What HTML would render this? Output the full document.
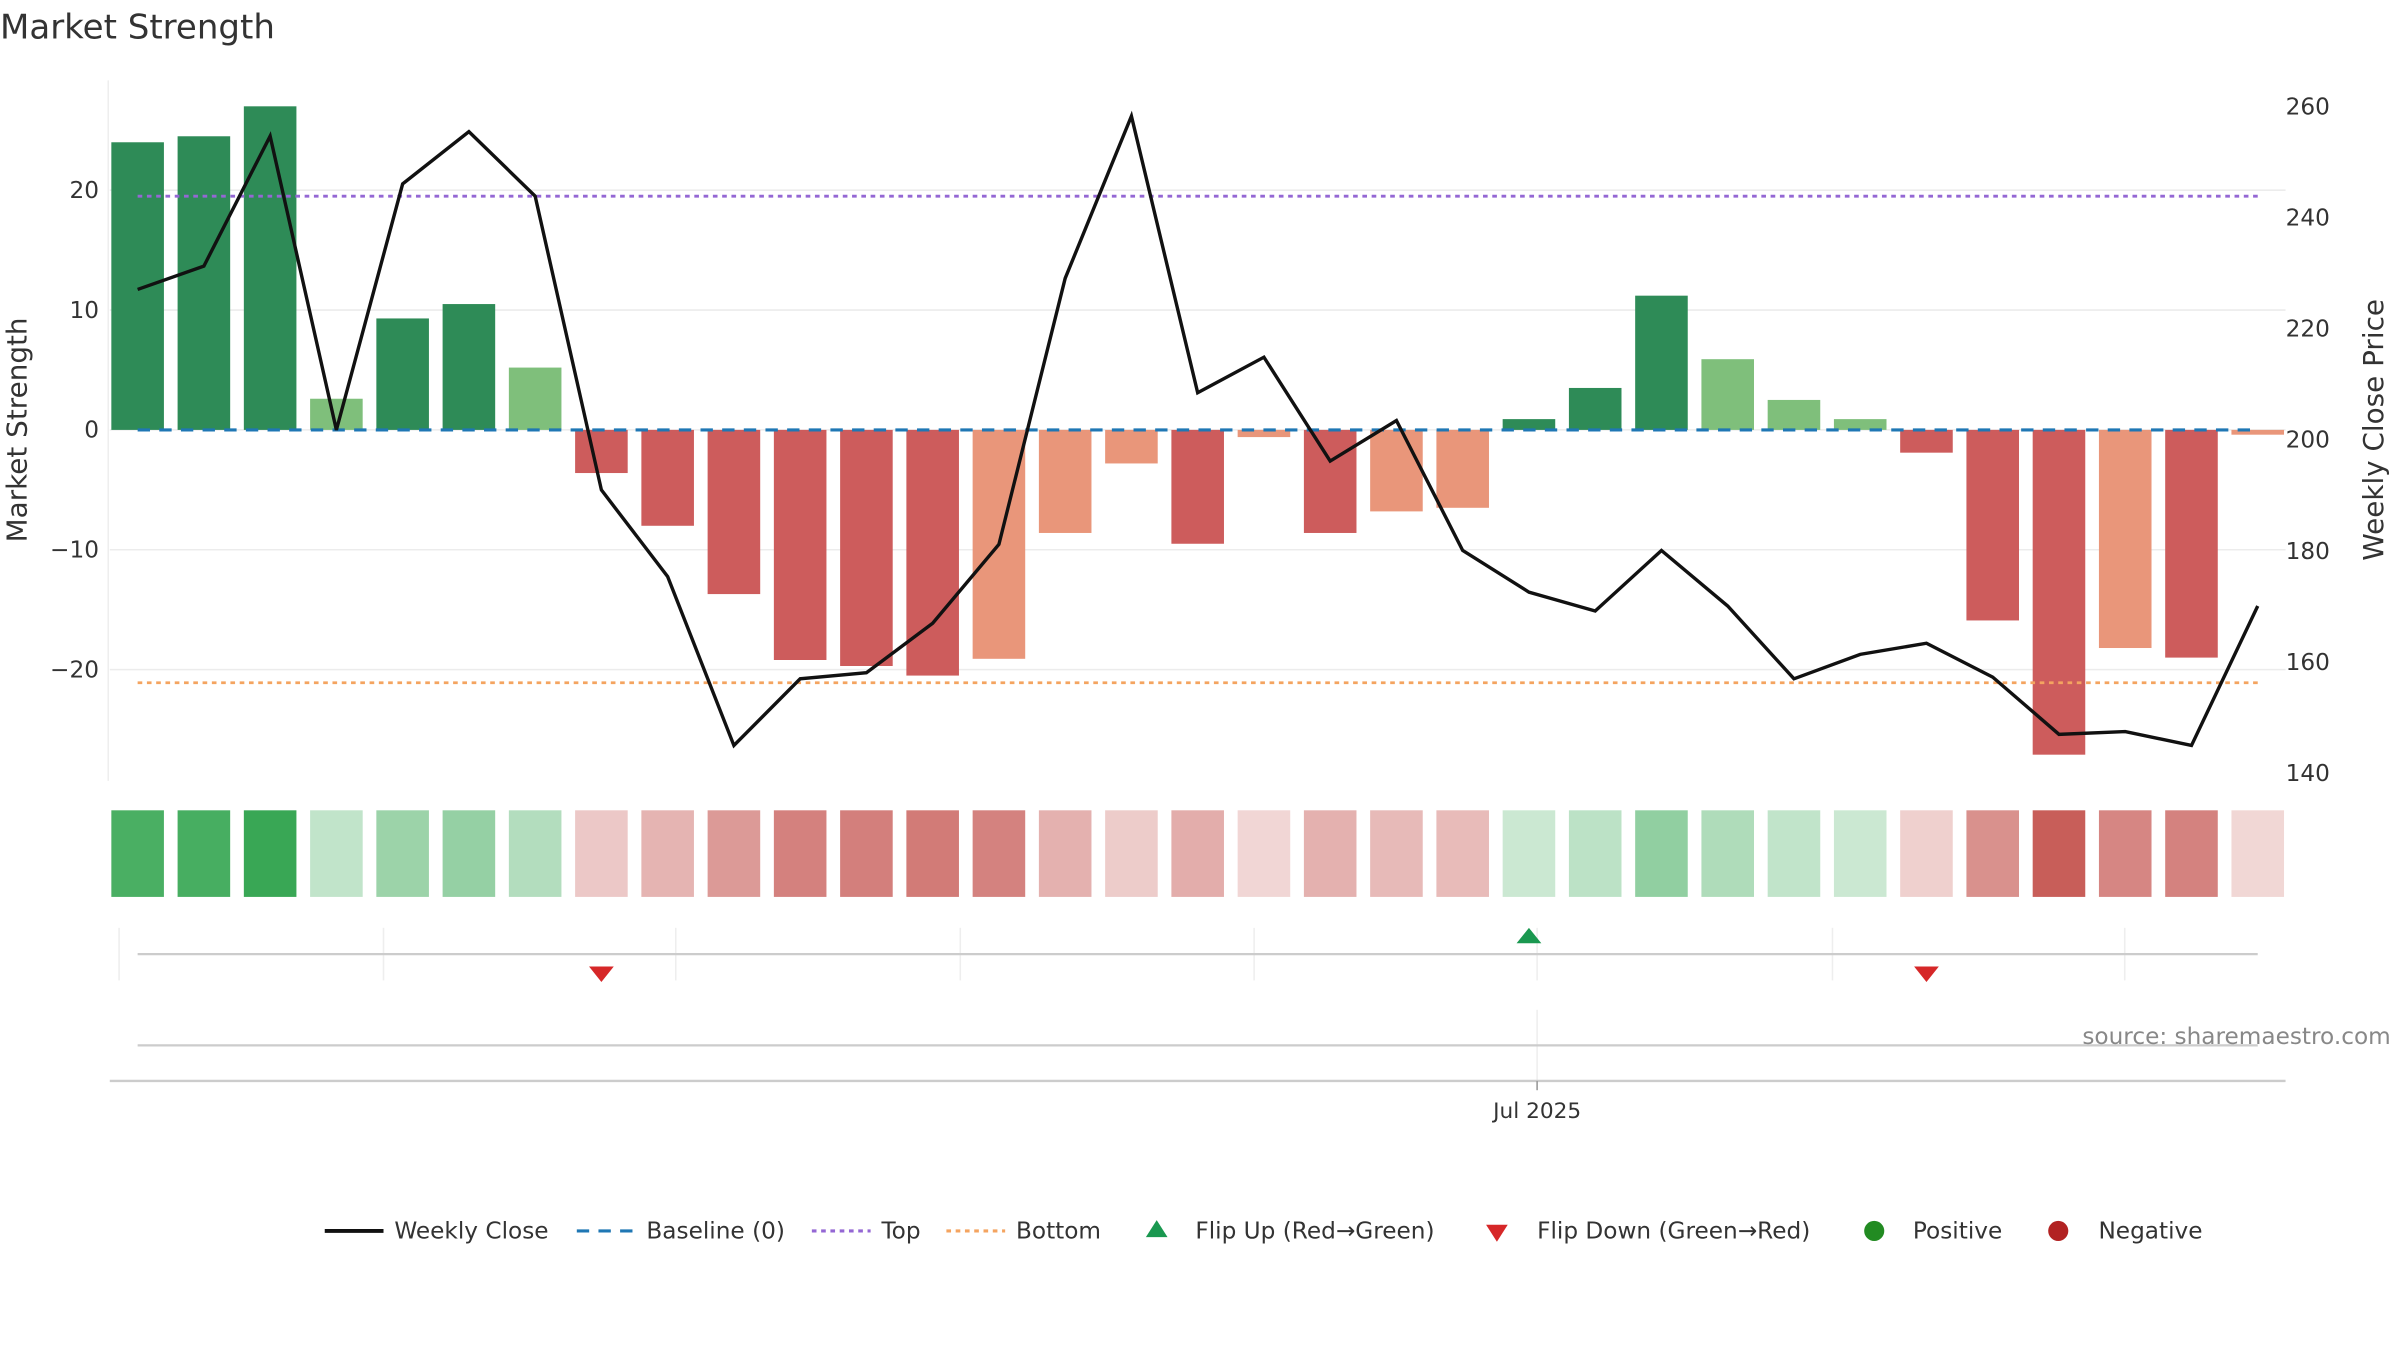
<!DOCTYPE html>
<html><head><meta charset="utf-8"><style>
html,body{margin:0;padding:0;background:#fff;}
svg{display:block;font-family:"DejaVu Sans","Liberation Sans",sans-serif;}
</style></head><body>
<svg id="chart" width="2400" height="1350" viewBox="0 0 1552 873" xmlns="http://www.w3.org/2000/svg">
<rect width="1552" height="873" fill="#fff"/>
<text x="0" y="25" font-size="22" fill="#333">Market Strength</text>
<g id="grid"></g>
<g id="bars"></g>
<g id="refs"></g>
<g id="line"></g>
<g id="heat"></g>
<g id="flips"></g>
<g id="axes"></g>
<text transform="translate(17,278) rotate(-90)" text-anchor="middle" font-size="18" fill="#333">Market Strength</text>
<text transform="translate(1541,278) rotate(-90)" text-anchor="middle" font-size="18" fill="#333">Weekly Close Price</text>
<text x="1546" y="675" text-anchor="end" font-size="15" fill="#888">source: sharemaestro.com</text>
<g id="legend" font-size="15" fill="#333">
 <g><line x1="210" y1="796" x2="248" y2="796" stroke="#111" stroke-width="2.5"/><text x="255" y="801">Weekly Close</text></g>
 <g><line x1="373" y1="796" x2="411" y2="796" stroke="#1f77b4" stroke-width="2" stroke-dasharray="8,6"/><text x="418" y="801">Baseline (0)</text></g>
 <g><line x1="525" y1="796" x2="563" y2="796" stroke="#9467d4" stroke-width="2" stroke-dasharray="3,3"/><text x="570" y="801">Top</text></g>
 <g><line x1="612" y1="796" x2="650" y2="796" stroke="#f4a460" stroke-width="2" stroke-dasharray="3,3"/><text x="657" y="801">Bottom</text></g>
 <g><path d="M741,800 L755,800 L748,789 Z" fill="#1a9850"/><text x="773" y="801">Flip Up (Red→Green)</text></g>
 <g><path d="M961,792 L975,792 L968,803 Z" fill="#d62728"/><text x="994" y="801">Flip Down (Green→Red)</text></g>
 <g><circle cx="1212" cy="796" r="6.5" fill="#228b22"/><text x="1237" y="801">Positive</text></g>
 <g><circle cx="1331" cy="796" r="6.5" fill="#b22222"/><text x="1357" y="801">Negative</text></g>
</g>
</svg>
<script>
const strength=[24.0,24.5,27.0,2.6,9.3,10.5,5.2,-3.6,-8.0,-13.7,-19.2,-19.7,-20.5,-19.1,-8.6,-2.8,-9.5,-0.6,-8.6,-6.8,-6.5,0.9,3.5,11.2,5.9,2.5,0.9,-1.9,-15.9,-27.1,-18.2,-19.0,-0.4];
const closes=[227.1,231.3,254.7,201.8,246.1,255.5,243.9,191.0,175.4,145.0,157.0,158.1,167.0,181.2,229.1,258.3,208.5,214.9,196.2,203.5,180.1,172.6,169.2,180.1,170.1,157.0,161.4,163.4,157.3,147.0,147.5,145.0,170.1];
const weak=[0,0,0,1,0,0,1,0,0,0,0,0,0,1,1,1,0,1,0,1,1,0,0,0,1,1,1,0,0,0,1,0,1];
const flipUp=[21];
const flipDown=[7,27];
const topLevel=19.5;
const bottomLevel=-21.1;
const leftTicks=[-20,-10,0,10,20];
const rightTicks=[140,160,180,200,220,240,260];
const NS="http://www.w3.org/2000/svg";
const x0=89,dx=(1460-89)/32,bw=34;
const xs=i=>x0+i*dx;
const yL=v=>278-v*7.75;
const yR=p=>284.5-(p-200)*3.592;
function mk(tag,attrs,parent){const e=document.createElementNS(NS,tag);for(const k in attrs)e.setAttribute(k,attrs[k]);document.getElementById(parent).appendChild(e);return e;}
// grid + ticks
leftTicks.forEach(t=>{
 const g=mk('line',{x1:71,x2:1478,y1:yL(t),y2:yL(t),stroke:'#ececec','stroke-width':1},'grid');
 
 
 const tx=mk('text',{x:64,y:yL(t)+5,'text-anchor':'end','font-size':15,fill:'#333'},'axes');
 tx.textContent=(t<0?'\u2212'+(-t):t);
 
 
});
rightTicks.forEach(t=>{
 const tx=mk('text',{x:1478,y:yR(t)+5,'font-size':15,fill:'#333'},'axes');
 tx.textContent=t;
 
 
});
const ax=mk('line',{x1:70,x2:70,y1:52,y2:505,stroke:'#eee'},'axes');


// bars
strength.forEach((v,i)=>{
 const col=v>=0?(weak[i]?'#7fbf7b':'#2e8b57'):(weak[i]?'#e9967a':'#cd5c5c');
 const r=mk('rect',{x:xs(i)-bw/2,y:Math.min(yL(v),yL(0)),width:bw,height:Math.abs(yL(v)-yL(0)),fill:col},'bars');
 
 
});
// refs
const b0=mk('line',{x1:89,x2:1460,y1:yL(0),y2:yL(0),stroke:'#1f77b4','stroke-width':2,'stroke-dasharray':'8,6'},'refs');


const tl=mk('line',{x1:89,x2:1460,y1:yL(topLevel),y2:yL(topLevel),stroke:'#9467d4','stroke-width':1.8,'stroke-dasharray':'3,3'},'refs');


const bl=mk('line',{x1:89,x2:1460,y1:yL(bottomLevel),y2:yL(bottomLevel),stroke:'#f4a460','stroke-width':1.8,'stroke-dasharray':'3,3'},'refs');


// close line
const pl=mk('polyline',{points:closes.map((c,i)=>xs(i)+','+yR(c)).join(' '),fill:'none',stroke:'#111','stroke-width':2.2,'stroke-linejoin':'miter'},'line');


// heat strip
strength.forEach((v,i)=>{
 const a=Math.min(1,0.22+0.7*Math.abs(v)/27);
 const col=v>=0?'rgba(40,160,70,'+a+')':'rgba(195,80,75,'+a+')';
 const r=mk('rect',{x:xs(i)-17,y:524,width:34,height:56,fill:col},'heat');
 
 
});
// flip panel
[77,248,437,621,811,994,1185,1374].forEach(x=>{
 const g=mk('line',{x1:x,x2:x,y1:600,y2:634,stroke:'#eee'},'flips');
 
 
});
const fl=mk('line',{x1:89,x2:1460,y1:617,y2:617,stroke:'#ccc','stroke-width':1.5},'flips');


flipUp.forEach(i=>{const x=xs(i);
 const p=mk('path',{d:`M${x-8},610 L${x+8},610 L${x},600 Z`,fill:'#1a9850'},'flips');
 
 });
flipDown.forEach(i=>{const x=xs(i);
 const p=mk('path',{d:`M${x-8},625 L${x+8},625 L${x},635 Z`,fill:'#d62728'},'flips');
 
 });
// lower panel
const vg=mk('line',{x1:994,x2:994,y1:653,y2:705,stroke:'#eee'},'flips');


const l2=mk('line',{x1:89,x2:1460,y1:676,y2:676,stroke:'#ccc','stroke-width':1.5},'flips');


const xa=mk('line',{x1:71,x2:1478,y1:699,y2:699,stroke:'#ccc','stroke-width':1.5},'axes');


const tk=mk('line',{x1:994,x2:994,y1:699,y2:705,stroke:'#999'},'axes');


const xl=mk('text',{x:994,y:723,'text-anchor':'middle','font-size':14,fill:'#333'},'axes');
xl.textContent='Jul 2025';


</script>
</body></html>
